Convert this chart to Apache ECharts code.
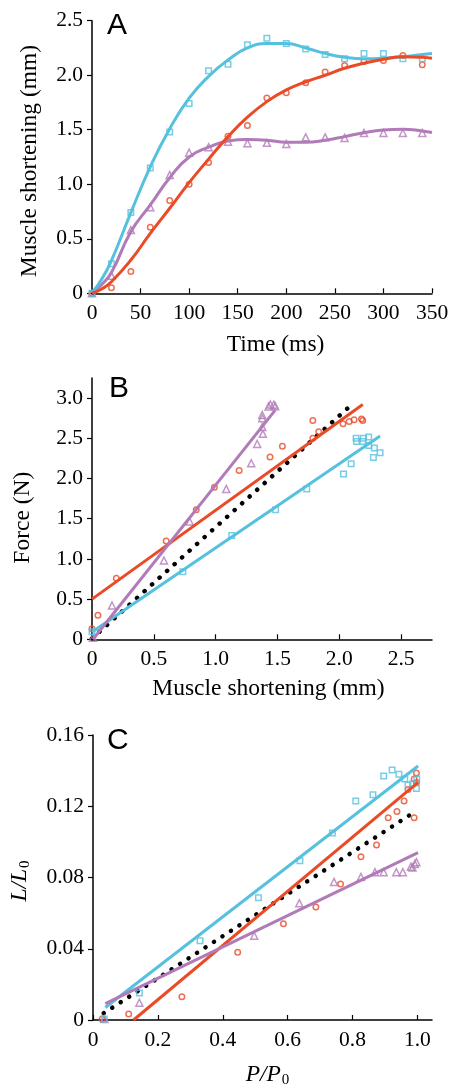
<!DOCTYPE html>
<html>
<head>
<meta charset="utf-8">
<script src="https://cdn.jsdelivr.net/npm/echarts@6/dist/echarts.min.js"></script>
<style>
  html, body { margin: 0; padding: 0; background: #fff; }
  #chart { width: 453px; height: 1089px; }
</style>
</head>
<body>
<div id="chart"></div>
<script>
var chart = echarts.init(document.getElementById('chart'));

// ---- panel A : shortening vs time ----
var timeMs = [0, 20, 40, 60, 80, 100, 120, 140, 160, 180, 200, 220, 240, 260, 280, 300, 320, 340];
var blueA = [0, 0.27, 0.74, 1.15, 1.48, 1.74, 2.04, 2.10, 2.28, 2.34, 2.29, 2.24, 2.19, 2.15, 2.20, 2.20, 2.15, 2.15];
var redA = [0, 0.05, 0.20, 0.605, 0.85, 1.00, 1.20, 1.44, 1.54, 1.79, 1.84, 1.93, 2.03, 2.09, 2.125, 2.135, 2.18, 2.095];
var purpleA = [0, 0.16, 0.58, 0.79, 1.085, 1.29, 1.34, 1.39, 1.376, 1.38, 1.37, 1.43, 1.43, 1.425, 1.47, 1.47, 1.47, 1.47];
// fitted curves
var timeFit = [0, 10, 20, 40, 60, 80, 100, 120, 140, 160, 180, 200, 220, 240, 260, 280, 300, 320, 340, 350];
var blueFitA = [0, 0.13, 0.30, 0.74, 1.16, 1.51, 1.79, 1.99, 2.14, 2.25, 2.29, 2.29, 2.25, 2.20, 2.165, 2.15, 2.155, 2.17, 2.19, 2.20];
var redFitA = [0, 0.04, 0.106, 0.305, 0.55, 0.78, 1.015, 1.23, 1.437, 1.615, 1.758, 1.865, 1.94, 2.0, 2.064, 2.11, 2.147, 2.17, 2.165, 2.156];
var purpleFitA = [0, 0.08, 0.19, 0.565, 0.81, 1.06, 1.25, 1.34, 1.397, 1.41, 1.404, 1.385, 1.385, 1.404, 1.437, 1.473, 1.498, 1.505, 1.489, 1.475];

// ---- panel B : force vs shortening ----
var blueB = [[0, 0.095], [0.735, 0.84], [1.13, 1.29], [1.485, 1.61], [1.737, 1.868], [2.034, 2.055], [2.096, 2.183],
  [2.136, 2.50], [2.14, 2.46], [2.19, 2.46], [2.195, 2.50], [2.238, 2.515], [2.238, 2.41], [2.284, 2.38], [2.276, 2.26], [2.33, 2.32]];
var redB = [[0, 0.13], [0.048, 0.30], [0.197, 0.76], [0.60, 1.224], [0.843, 1.61], [0.99, 1.89], [1.19, 2.10], [1.44, 2.266],
  [1.54, 2.40], [1.786, 2.72], [1.786, 2.50], [1.834, 2.58], [2.03, 2.68], [2.08, 2.71], [2.12, 2.73], [2.18, 2.74], [2.19, 2.72]];
var purpleB = [[0.008, 0.02], [0.162, 0.42], [0.582, 0.98], [0.79, 1.465], [1.086, 1.87], [1.288, 2.19], [1.336, 2.43],
  [1.382, 2.556], [1.377, 2.64], [1.377, 2.75], [1.377, 2.79], [1.428, 2.897], [1.443, 2.92], [1.47, 2.918], [1.482, 2.90]];
var blueLineB = [[0, 0.09], [2.33, 2.53]];
var redLineB = [[0, 0.5], [2.19, 2.92]];
var purpleLineB = [[0.008, 0], [1.482, 2.85]];
var blackLineB = [[0, 0.01], [2.10, 2.918]];

// ---- panel C : L/L0 vs P/P0 ----
var blueC = [[0.035, 0.0005], [0.143, 0.0152], [0.33, 0.0445], [0.51, 0.0687], [0.638, 0.0894], [0.738, 0.105], [0.81, 0.123],
  [0.863, 0.1265], [0.896, 0.137], [0.922, 0.1404], [0.943, 0.138], [0.961, 0.1353], [0.971, 0.132], [0.985, 0.1325], [0.997, 0.13], [0.998, 0.1353]];
var redC = [[0.028, 0.0005], [0.11, 0.0033], [0.274, 0.013], [0.446, 0.038], [0.587, 0.054], [0.687, 0.0634], [0.763, 0.0763],
  [0.826, 0.0917], [0.874, 0.0983], [0.91, 0.1136], [0.937, 0.117], [0.959, 0.123], [0.971, 0.1294], [0.99, 0.1136],
  [0.99, 0.1353], [0.997, 0.1386], [0.997, 0.1334]];
var purpleC = [[0.035, 0.0005], [0.143, 0.0097], [0.497, 0.0473], [0.636, 0.0656], [0.743, 0.0775], [0.826, 0.0803], [0.869, 0.083],
  [0.896, 0.083], [0.935, 0.083], [0.955, 0.083], [0.98, 0.0861], [0.985, 0.0856], [0.992, 0.0876], [0.997, 0.0886]];
var blueLineC = [[0.038, 0.007], [1.002, 0.1426]];
var redLineC = [[0.125, 0], [1.002, 0.1334]];
var purpleLineC = [[0.038, 0.0092], [1.002, 0.094]];
var blackLineC = [[0.033, 0.0038], [0.981, 0.1156]];

var ticksBx = [0, 0.5, 1.0, 1.5, 2.0, 2.5];
var ticksBy = [0, 0.5, 1.0, 1.5, 2.0, 2.5, 3.0];
var ticksCx = [0, 0.2, 0.4, 0.6, 0.8, 1.0];

var BLUE = '#55c1de', RED = '#e94b27', PURPLE = '#b17ab8';
var SERIF = '"Liberation Serif", "Times New Roman", serif';
var SANS = '"Liberation Sans", Arial, sans-serif';

function fmt(d) {
  return function (v) { return v === 0 ? '0' : v.toFixed(d); };
}

function xAx(gi, max, interval, name, pad, gap, custom, dec) {
  var ax = {
    type: 'value', gridIndex: gi, min: 0, max: max, interval: interval,
    name: name, nameLocation: 'middle', nameGap: gap,
    nameTextStyle: { fontFamily: SERIF, fontSize: 23.5, color: '#000', padding: [0, 0, 0, pad] },
    axisLine: { show: true, lineStyle: { color: '#000', width: 1.5 } },
    axisTick: { show: true, inside: true, length: 5, lineStyle: { color: '#000', width: 1.2 } },
    axisLabel: { fontFamily: SERIF, fontSize: 21.5, color: '#000', margin: 9, formatter: fmt(dec) },
    splitLine: { show: false }
  };
  if (custom) {
    ax.axisTick.customValues = custom;
    ax.axisLabel.customValues = custom;
  }
  return ax;
}

function yAx(gi, max, interval, name, pad, gap, custom, dec) {
  var ax = {
    type: 'value', gridIndex: gi, min: 0, max: max, interval: interval,
    name: name, nameLocation: 'middle', nameGap: gap,
    nameTextStyle: { fontFamily: SERIF, fontSize: 23.5, color: '#000', padding: [0, pad, 0, 0] },
    axisLine: { show: true, lineStyle: { color: '#000', width: 1.5 } },
    axisTick: { show: true, inside: false, length: 5, lineStyle: { color: '#000', width: 1.2 } },
    axisLabel: { fontFamily: SERIF, fontSize: 21.5, color: '#000', margin: 9, formatter: fmt(dec) },
    splitLine: { show: false }
  };
  if (custom) {
    ax.axisTick.customValues = custom;
    ax.axisLabel.customValues = custom;
  }
  return ax;
}

function pts(data, idx, symbol, color) {
  return {
    type: 'scatter', xAxisIndex: idx, yAxisIndex: idx, data: data,
    symbol: symbol, symbolSize: symbol === 'triangle' ? 7 : 5.5,
    itemStyle: { color: 'rgba(255,255,255,0)', borderColor: color, borderWidth: 1.5 },
    z: 2, silent: true
  };
}

function fit(data, idx, color, smooth) {
  return {
    type: 'line', xAxisIndex: idx, yAxisIndex: idx, data: data, smooth: smooth,
    showSymbol: false, lineStyle: { color: color, width: 3 }, z: 3, silent: true
  };
}

function dots(data, idx) {
  return {
    type: 'line', xAxisIndex: idx, yAxisIndex: idx, data: data, showSymbol: false,
    lineStyle: { color: '#000', width: 4.5, type: [0.1, 10], cap: 'round' }, z: 1, silent: true
  };
}

function zip(xs, ys) {
  return xs.map(function (x, i) { return [x, ys[i]]; });
}

var option = {
  backgroundColor: '#fff',
  animation: false,
  grid: [
    { left: 92, width: 340, top: 20.7, height: 272.6 },
    { left: 92, width: 340, top: 378, height: 261.3 },
    { left: 92, width: 340, top: 735, height: 291 }
  ],
  xAxis: [
    xAx(0, 350, 50, 'Time (ms)', 27, 40, null, 0),
    xAx(1, 2.75, 0.5, 'Muscle shortening (mm)', 13, 38, ticksBx, 1),
    xAx(2, 1.045, 0.2, '{i|P}{i|/}{i|P}{s|0}', 10, 41, ticksCx, 1)
  ],
  yAxis: [
    yAx(0, 2.5, 0.5, 'Muscle shortening (mm)', 8, 50, null, 1),
    yAx(1, 3.25, 0.5, 'Force (N)', 18, 57, ticksBy, 1),
    yAx(2, 0.16, 0.04, '{i|L}{i|/}{i|L}{s|0}', 7, 60, null, 2)
  ],
  graphic: [
    { type: 'text', left: 107, top: 11, style: { text: 'A', font: '30px ' + SANS, fill: '#000' } },
    { type: 'text', left: 109, top: 374, style: { text: 'B', font: '30px ' + SANS, fill: '#000' } },
    { type: 'text', left: 107, top: 726, style: { text: 'C', font: '30px ' + SANS, fill: '#000' } }
  ],
  series: [
    pts(zip(timeMs, redA), 0, 'circle', RED),
    pts(zip(timeMs, purpleA), 0, 'triangle', PURPLE),
    pts(zip(timeMs, blueA), 0, 'rect', BLUE),
    fit(zip(timeFit, purpleFitA), 0, PURPLE, 0.5),
    fit(zip(timeFit, blueFitA), 0, BLUE, 0.5),
    fit(zip(timeFit, redFitA), 0, RED, 0.5),

    dots(blackLineB, 1),
    pts(redB, 1, 'circle', RED),
    pts(purpleB, 1, 'triangle', PURPLE),
    pts(blueB, 1, 'rect', BLUE),
    fit(blueLineB, 1, BLUE, false),
    fit(redLineB, 1, RED, false),
    fit(purpleLineB, 1, PURPLE, false),

    dots(blackLineC, 2),
    pts(redC, 2, 'circle', RED),
    pts(purpleC, 2, 'triangle', PURPLE),
    pts(blueC, 2, 'rect', BLUE),
    fit(blueLineC, 2, BLUE, false),
    fit(redLineC, 2, RED, false),
    fit(purpleLineC, 2, PURPLE, false)
  ]
};

// italic variable names with subscript 0
var rich = {
  i: { fontFamily: SERIF, fontSize: 23.5, fontStyle: 'italic', color: '#000' },
  s: { fontFamily: SERIF, fontSize: 15, color: '#000', padding: [12, 0, 0, 1] }
};
option.xAxis[2].nameTextStyle.rich = rich;
option.yAxis[2].nameTextStyle.rich = rich;

chart.setOption(option);
</script>
</body>
</html>
